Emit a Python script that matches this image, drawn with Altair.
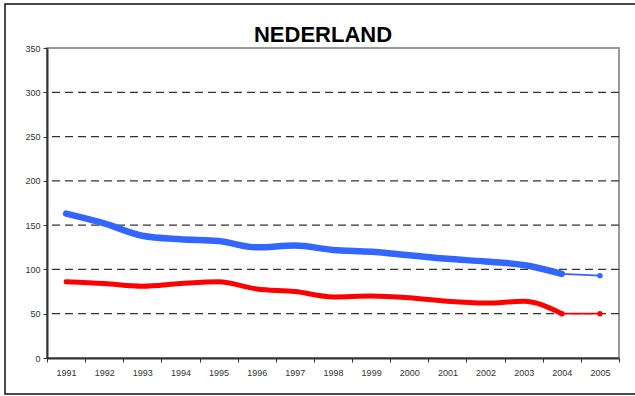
import altair as alt
import pandas as pd

# Yearly values for the two series (index, 1991-2005)
years = [1991, 1992, 1993, 1994, 1995, 1996, 1997, 1998, 1999, 2000,
         2001, 2002, 2003, 2004, 2005]
blue_values = [163, 152, 138, 134, 132, 125, 127, 122, 120, 116,
               112, 109, 105, 95, 93]
red_values = [86, 84, 81, 84, 86, 78, 75, 69, 70, 68,
              64, 62, 64, 50, 50]
grid_values = [50, 100, 150, 200, 250, 300]
y_ticks = [0, 50, 100, 150, 200, 250, 300, 350]
title_text = ["NEDERLAND"]

BLUE = "#3366FF"
RED = "#FF0000"
FONT = "Liberation Sans"

rows = []
for name, vals in (("blauw", blue_values), ("rood", red_values)):
    for y, v in zip(years, vals):
        rows.append({"jaar": y, "waarde": v, "reeks": name})
df = pd.DataFrame(rows)

# Thick line up to 2004; thin line with markers for the final step
main_df = df[df["jaar"] <= 2004]
tail_df = df[df["jaar"] >= 2004]

x_enc = alt.X(
    "jaar:O",
    bandPosition=0.5,
    scale=alt.Scale(type="band", paddingInner=0, paddingOuter=0),
    axis=alt.Axis(
        title=None, labelAngle=0, tickBand="extent", tickSize=4,
        tickColor="#333333", domainColor="#333333", domainWidth=2,
        labelFont=FONT, labelFontSize=9, labelColor="#333333",
        labelPadding=6,
    ),
)
y_enc = alt.Y(
    "waarde:Q",
    scale=alt.Scale(domain=[0, 350], nice=False),
    axis=alt.Axis(
        title=None, values=y_ticks, grid=False, tickSize=4,
        tickColor="#333333", domainColor="#333333", domainWidth=2,
        labelFont=FONT, labelFontSize=9, labelColor="#333333",
        labelPadding=3,
    ),
)
color_enc = alt.Color(
    "reeks:N",
    scale=alt.Scale(domain=["blauw", "rood"], range=[BLUE, RED]),
    legend=None,
)
width_enc = alt.StrokeWidth(
    "reeks:N",
    scale=alt.Scale(domain=["blauw", "rood"], range=[6.5, 5]),
    legend=None,
)

grid = alt.Chart(pd.DataFrame({"g": grid_values})).mark_rule(
    color="#333333", strokeDash=[8, 5], strokeWidth=1.2
).encode(y=alt.Y("g:Q", scale=alt.Scale(domain=[0, 350], nice=False)))

thick = alt.Chart(main_df).mark_line(
    interpolate="monotone", strokeCap="round"
).encode(x=x_enc, y=y_enc, color=color_enc, strokeWidth=width_enc,
         detail="reeks:N")

thin = alt.Chart(tail_df).mark_line(strokeWidth=1.8).encode(
    x=x_enc, y=y_enc, color=color_enc, detail="reeks:N"
)

dots = alt.Chart(tail_df).mark_point(
    shape="circle", filled=True, size=30, opacity=1
).encode(x=x_enc, y=y_enc, color=color_enc)

frame = alt.Chart(pd.DataFrame({"k": [0]})).mark_rect(
    fill=None, stroke="#111111", strokeWidth=1.5
).encode(
    x=alt.value(-42), x2=alt.value(620),
    y=alt.value(-44), y2=alt.value(346),
)

title = alt.Chart(pd.DataFrame({"t": title_text})).mark_text(
    font=FONT, fontSize=22, fontWeight="bold", color="#000000",
    align="center", baseline="alphabetic",
).encode(text="t:N", x=alt.value(276), y=alt.value(-6))

chart = alt.layer(grid, thick, thin, dots, frame, title).properties(
    width=572,
    height=310,
    autosize=alt.AutoSizeParams(type="none"),
    padding={"left": 47, "top": 48, "right": 16, "bottom": 38},
    background="white",
).configure_view(stroke="#999999", strokeWidth=2)

chart.save("out.html", embed_options={"renderer": "svg", "actions": False})
